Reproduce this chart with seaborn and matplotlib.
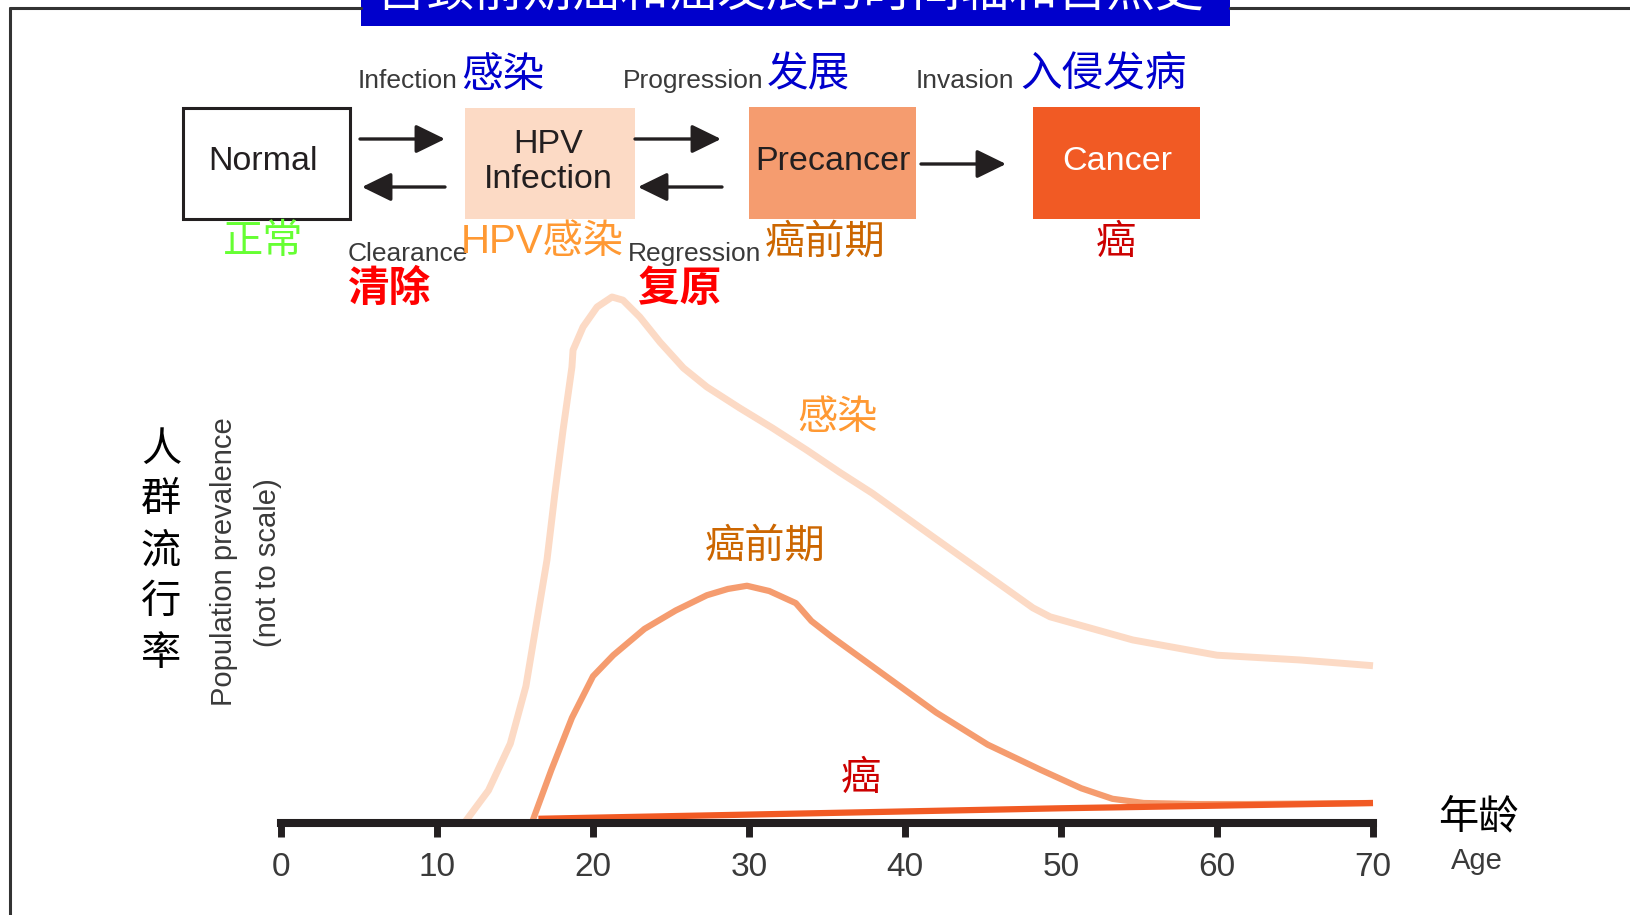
import matplotlib
matplotlib.use("Agg")
import matplotlib.pyplot as plt
from matplotlib.patches import Rectangle
import seaborn as sns

# ---- curve data (age in years, prevalence in arbitrary units, not to scale)
infection_age = [11.8, 13.3, 14.7, 15.7, 17.05, 17.56, 18.08, 18.65, 18.72, 19.36, 20.26, 21.22, 21.92,
                 23.0, 24.3, 25.8, 27.3, 29.4, 31.5, 33.7, 35.8, 37.9, 41.8, 48.2, 49.3, 54.6, 60.0, 65.3, 70.0]
infection_val = [0.2, 6.2, 15.1, 26.0, 50.0, 62.7, 74.7, 86.7, 89.9, 94.3, 98.1, 100.0, 99.4,
                 96.2, 91.4, 86.5, 82.9, 78.9, 75.1, 70.9, 66.7, 62.7, 54.4, 40.9, 39.2, 34.8, 31.9, 31.0, 29.9]

precancer_age = [16.1, 17.33, 18.65, 20.0, 21.3, 23.3, 25.3, 27.3, 28.65, 29.87, 31.3, 33.0, 34.0,
                 35.3, 38.6, 42.0, 45.3, 48.7, 51.3, 53.3, 55.3, 58.7, 62.0, 70.0]
precancer_val = [0.2, 10.1, 20.0, 27.9, 31.9, 36.9, 40.4, 43.3, 44.5, 45.1, 44.1, 41.8, 38.4,
                 35.4, 28.3, 21.0, 14.9, 10.1, 6.6, 4.6, 3.8, 3.6, 3.6, 3.8]

cancer_age = [16.5, 30, 40, 50, 60, 70]
cancer_val = [0.8, 1.6, 2.2, 2.8, 3.3, 3.8]

age_ticks = [0, 10, 20, 30, 40, 50, 60, 70]

title = "宫颈前期癌和癌发展的时间轴和自然史"
stage_boxes = ["Normal", "HPV\nInfection", "Precancer", "Cancer"]
stage_cn = ["正常", "HPV感染", "癌前期", "癌"]
forward_en = ["Infection", "Progression", "Invasion"]
forward_cn = ["感染", "发展", "入侵发病"]
backward_en = ["Clearance", "Regression"]
backward_cn = ["清除", "复原"]

# colours
C_INF = "#FCDAC5"
C_PRE = "#F59C6F"
C_CAN = "#F15A24"
C_DARK = "#231F20"
C_GREY = "#3A3A3A"

sns.set_style("white")
plt.rcParams['font.family'] = ['Liberation Sans', 'Noto Sans CJK SC', 'DejaVu Sans']
CJK = ['Noto Sans CJK SC', 'DejaVu Sans']
SANS = ['Liberation Sans', 'Noto Sans CJK SC']

W, H = 1631, 915
fig = plt.figure(figsize=(W / 100, H / 100), dpi=100)

# overlay in pixel coordinates for the diagram part
ax0 = fig.add_axes([0, 0, 1, 1])
ax0.set_xlim(0, W)
ax0.set_ylim(H, 0)
ax0.axis("off")

# frame lines + title bar
ax0.plot([10, 361], [8, 8], color="#333333", lw=2.2)
ax0.plot([1230, W], [8, 8], color="#333333", lw=2.2)
ax0.plot([10, 10], [8, H], color="#333333", lw=2.2)
ax0.add_patch(Rectangle((361, 0), 869, 26, fc="#0000CC", ec="none"))
ax0.text(790, 6, title, color="white", fontsize=35, family=CJK, ha="center", va="baseline")

# stage boxes
ax0.add_patch(Rectangle((183, 108), 167, 111, fc="white", ec=C_DARK, lw=2.2))
ax0.add_patch(Rectangle((465, 108), 170, 111, fc=C_INF, ec="none"))
ax0.add_patch(Rectangle((749, 107), 167, 112, fc=C_PRE, ec="none"))
ax0.add_patch(Rectangle((1033, 107), 167, 112, fc=C_CAN, ec="none"))
ax0.text(263, 162, stage_boxes[0], fontsize=24.5, color=C_DARK, ha="center", va="center")
ax0.text(548, 162, stage_boxes[1], fontsize=24.5, color=C_DARK, ha="center", va="center", linespacing=1.2)
ax0.text(833, 162, stage_boxes[2], fontsize=24.5, color=C_DARK, ha="center", va="center")
ax0.text(1117, 162, stage_boxes[3], fontsize=24.5, color="white", ha="center", va="center")

# arrows
arrow = dict(arrowstyle="-|>,head_length=0.45,head_width=0.22", color=C_DARK, lw=2.4,
             mutation_scale=40, shrinkA=0, shrinkB=0)
for x0, x1, y in [(360, 445, 139), (635, 721, 139), (921, 1006, 164)]:
    ax0.annotate("", xy=(x1, y), xytext=(x0, y), arrowprops=arrow)
for x0, x1, y in [(445, 362, 187), (722, 638, 187)]:
    ax0.annotate("", xy=(x1, y), xytext=(x0, y), arrowprops=arrow)

# transition labels
for en, cn, xe, xc in zip(forward_en, forward_cn, [358, 623, 916], [461, 767, 1020]):
    ax0.text(xe, 81, en, fontsize=19, color=C_GREY, ha="left", va="center")
    ax0.text(xc, 75, cn, fontsize=30, color="#0000CC", family=CJK, ha="left", va="center")
for en, cn, xe, xc in zip(backward_en, backward_cn, [348, 628], [348, 638]):
    ax0.text(xe, 254, en, fontsize=19, color=C_GREY, ha="left", va="center")
    ax0.text(xc, 289, cn, fontsize=30, color="#FF0000", family=CJK, ha="left", va="center", weight="bold")

# stage names in Chinese
ax0.text(263, 242, stage_cn[0], fontsize=29, color="#66FF33", family=CJK, ha="center", va="center")
ax0.text(461, 242, stage_cn[1], fontsize=29, color="#FF9933", family=SANS, ha="left", va="center")
ax0.text(765, 242, stage_cn[2], fontsize=29, color="#CC6600", family=CJK, ha="left", va="center")
ax0.text(1116, 242, stage_cn[3], fontsize=29, color="#CC0000", family=CJK, ha="center", va="center")

# y axis labels
for i, ch in enumerate("人群流行率"):
    ax0.text(161, 449 + i * 51, ch, fontsize=29, color="black", family=CJK, ha="center", va="center")
ax0.text(224, 562, "Population prevalence", fontsize=21, color=C_GREY, rotation=90, ha="center", va="center")
ax0.text(268, 563, "(not to scale)", fontsize=21, color=C_GREY, rotation=90, ha="center", va="center")

# x axis label
ax0.text(1478, 817, "年龄", fontsize=29, color="black", family=CJK, ha="center", va="center")
ax0.text(1477, 861, "Age", fontsize=21, color=C_GREY, ha="center", va="center")

# curve labels
ax0.text(838, 418, "感染", fontsize=29, color="#FF9933", family=CJK, ha="center", va="center")
ax0.text(765, 546, "癌前期", fontsize=29, color="#CC6600", family=CJK, ha="center", va="center")
ax0.text(861, 778, "癌", fontsize=29, color="#CC0000", family=CJK, ha="center", va="center")

# ---- prevalence curves
ax = fig.add_axes([281 / W, 92 / H, 1092 / W, 526 / H])
ax.patch.set_visible(False)
sns.lineplot(x=infection_age, y=infection_val, ax=ax, color=C_INF, linewidth=5, estimator=None)
sns.lineplot(x=precancer_age, y=precancer_val, ax=ax, color=C_PRE, linewidth=4.5, estimator=None)
sns.lineplot(x=cancer_age, y=cancer_val, ax=ax, color=C_CAN, linewidth=4.5, estimator=None)
for line in ax.lines:
    line.set_clip_on(False)
    line.set_solid_capstyle("butt")

ax.set_xlim(0, 70)
ax.set_ylim(0, 100)
for side in ["left", "top", "right"]:
    ax.spines[side].set_visible(False)
ax.spines["bottom"].set_linewidth(5.8)
ax.spines["bottom"].set_color(C_DARK)
ax.spines["bottom"].set_capstyle("projecting")
ax.set_xticks(age_ticks)
ax.set_xticklabels([str(a) for a in age_ticks])
ax.set_yticks([])
ax.tick_params(axis="x", direction="out", length=10, width=5, color=C_DARK, pad=11,
               labelsize=24, labelcolor=C_GREY, bottom=True)
ax.set_xlabel("")
ax.set_ylabel("")

fig.savefig("out.png", dpi=100)
